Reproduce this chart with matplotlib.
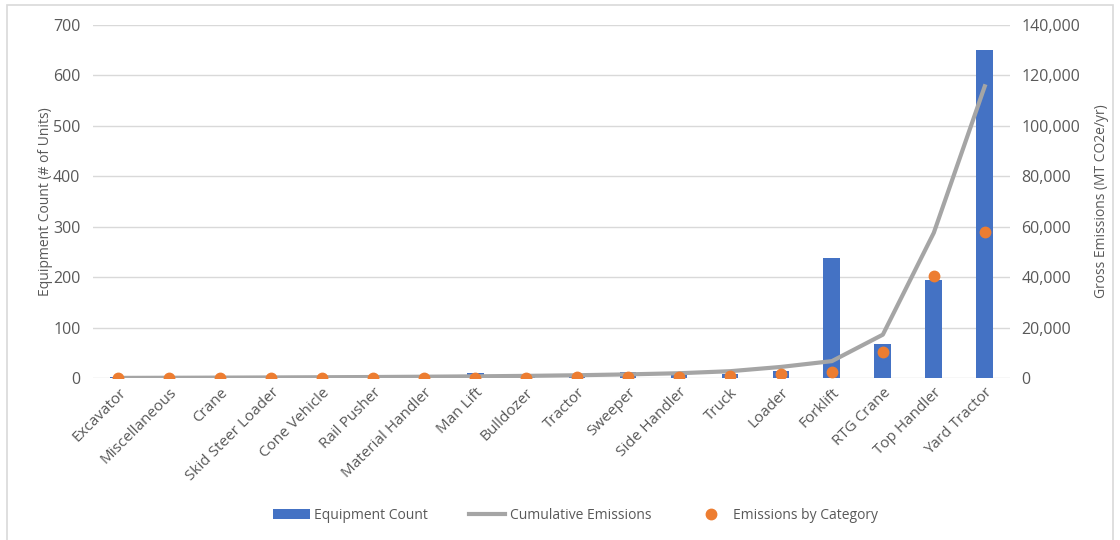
import numpy as np
import matplotlib.pyplot as plt
from matplotlib.patches import Rectangle
from matplotlib.ticker import FuncFormatter

#Chart data
categories = ['Excavator', 'Miscellaneous', 'Crane', 'Skid Steer Loader', 'Cone Vehicle',
              'Rail Pusher', 'Material Handler', 'Man Lift', 'Bulldozer', 'Tractor',
              'Sweeper', 'Side Handler', 'Truck', 'Loader', 'Forklift', 'RTG Crane',
              'Top Handler', 'Yard Tractor']
equipment_count = [1, 1, 1, 1, 1, 1, 2, 9, 2, 3, 11, 12, 7, 13, 237, 67, 195, 650]
emissions_by_cat = [40, 50, 60, 70, 80, 90, 120, 150, 180, 250, 350, 450, 800, 1700,
                    2300, 10500, 40400, 58100]
cumulative = [40, 90, 150, 220, 300, 390, 510, 660, 840, 1090, 1440, 1890, 2690, 4390,
              6690, 17190, 57590, 115690]

left_ticks = [0, 100, 200, 300, 400, 500, 600, 700]
right_ticks = [0, 20000, 40000, 60000, 80000, 100000, 120000, 140000]

#Colours and font
blue = '#4472C4'
grey = '#A5A5A5'
orange = '#ED7D31'
txt = '#595959'
plt.rcParams['font.family'] = ['Open Sans', 'DejaVu Sans']
fnt = 10

fig = plt.figure(figsize=(11.2, 5.4), dpi=100)
ax = fig.add_axes([0.083, 0.30, 0.819, 0.6537])
ax2 = ax.twinx()

x = np.arange(len(categories))
ax.bar(x, equipment_count, width=0.33, color=blue, zorder=2, label='Equipment Count')
ax2.plot(x, cumulative, color=grey, linewidth=3, zorder=3, label='Cumulative Emissions')
ax2.plot(x, emissions_by_cat, 'o', color=orange, markersize=7.5, zorder=4,
         label='Emissions by Category')

ax.set_xlim(-0.5, len(categories) - 0.5)
ax.set_ylim(0, 700)
ax2.set_ylim(0, 140000)
ax.set_yticks(left_ticks)
ax2.set_yticks(right_ticks)
ax2.yaxis.set_major_formatter(FuncFormatter(lambda v, p: '{:,.0f}'.format(v)))

ax.grid(axis='y', color='#d9d9d9', linewidth=1, zorder=0)
ax.set_axisbelow(True)
for a in (ax, ax2):
    for s in a.spines.values():
        s.set_visible(False)
    a.tick_params(length=0, labelsize=11.5, labelcolor=txt)

ax.set_xticks(x)
ax.set_xticklabels(categories, rotation=45, ha='right', rotation_mode='anchor')
ax.tick_params(axis='x', pad=5, labelsize=11)
ax.tick_params(axis='y', pad=9)
ax2.tick_params(axis='y', pad=8)

ax.set_ylabel('Equipment Count (# of Units)', fontsize=fnt, color=txt, labelpad=0)
ax2.set_ylabel('Gross Emissions (MT CO2e/yr)', fontsize=fnt, color=txt, labelpad=10)

#Legend along the bottom
h1, l1 = ax.get_legend_handles_labels()
h2, l2 = ax2.get_legend_handles_labels()
leg = fig.legend(h1 + h2, l1 + l2, loc='center', bbox_to_anchor=(0.514, 0.046), ncol=3,
                 frameon=False, fontsize=fnt, columnspacing=3.0, handlelength=2.6,
                 handletextpad=0.3)
for t in leg.get_texts():
    t.set_color(txt)

#Light border round the chart area
fig.patches.append(Rectangle((0.006, -0.01), 0.988, 1.0, transform=fig.transFigure,
                             fill=False, edgecolor='#d9d9d9', linewidth=1.2))

fig.savefig('out.png', dpi=100)
